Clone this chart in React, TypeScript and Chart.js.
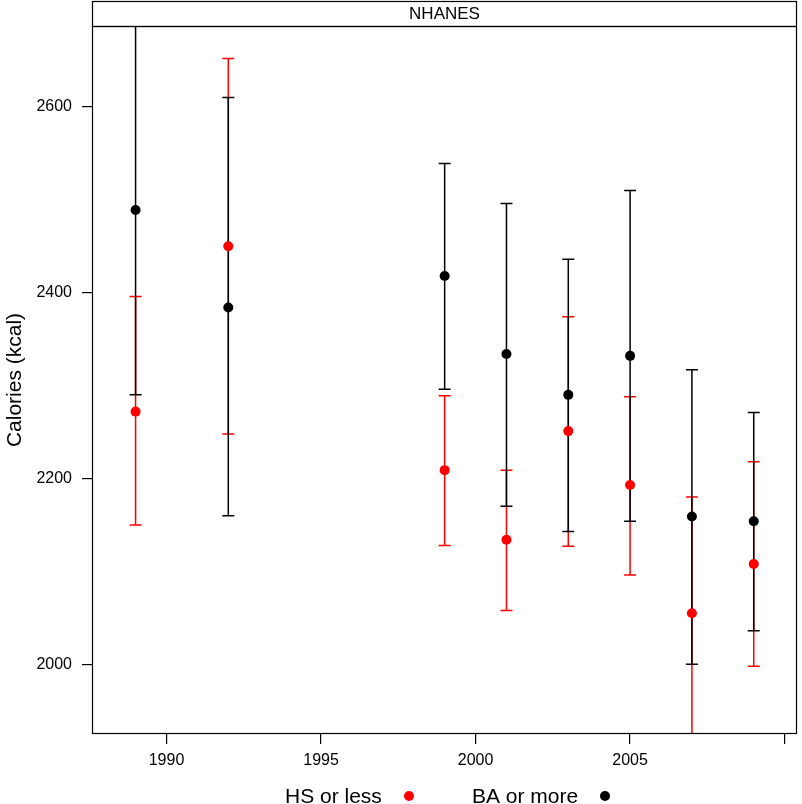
import React, { useEffect, useRef } from 'react';
import { Chart, registerables } from 'chart.js';

Chart.register(...registerables);

// ---- data ----
const years = [1989, 1992, 1999, 2001, 2003, 2005, 2007, 2009];
const hsMean = [2272, 2450, 2209, 2134, 2251, 2193, 2055, 2108];
const hsLower = [2150, 2248, 2128, 2058, 2127, 2096, 1922, 1998];
const hsUpper = [2396, 2652, 2289, 2209, 2374, 2288, 2180, 2218];
const baMean = [2489, 2384, 2418, 2334, 2290, 2332, 2159, 2154];
const baLower = [2290, 2160, 2296, 2170, 2143, 2154, 2000, 2036];
const baUpper = [2690, 2610, 2539, 2496, 2436, 2510, 2317, 2271];

const xTicks = [1990, 1995, 2000, 2005, 2010];
const xTickLabels = ['1990', '1995', '2000', '2005', ''];
const yTicks = [2000, 2200, 2400, 2600];
const yTickLabels = ['2000', '2200', '2400', '2600'];

const seriesNames = ['HS or less', 'BA or more'];
const seriesColors = ['#ff0000', '#000000'];
const stripLabel = 'NHANES';
const yTitle = 'Calories (kcal)';

const X_MIN = 1987.59;
const X_MAX = 2010.4;
const Y_MIN = 1925;
const Y_MAX = 2687;

const FONT = '"Liberation Sans", Arial, Helvetica, sans-serif';

const errorBarPlugin = {
  id: 'errorBars',
  beforeDatasetsDraw(chart: any) {
    const { ctx, chartArea, scales } = chart;
    const x = scales.x;
    const y = scales.y;
    ctx.save();
    ctx.beginPath();
    ctx.rect(chartArea.left, chartArea.top, chartArea.right - chartArea.left, chartArea.bottom - chartArea.top);
    ctx.clip();
    const groups: [number[], number[], string][] = [
      [hsLower, hsUpper, seriesColors[0]],
      [baLower, baUpper, seriesColors[1]],
    ];
    const cap = 6;
    groups.forEach(([lo, hi, col]) => {
      ctx.strokeStyle = col;
      ctx.lineWidth = 1.5;
      years.forEach((yr, i) => {
        const px = x.getPixelForValue(yr);
        const pLo = y.getPixelForValue(lo[i]);
        const pHi = y.getPixelForValue(hi[i]);
        ctx.beginPath();
        ctx.moveTo(px, pLo);
        ctx.lineTo(px, pHi);
        ctx.moveTo(px - cap, pLo);
        ctx.lineTo(px + cap, pLo);
        ctx.moveTo(px - cap, pHi);
        ctx.lineTo(px + cap, pHi);
        ctx.stroke();
      });
    });
    ctx.restore();
  },
};

const decorPlugin = {
  id: 'decor',
  afterDraw(chart: any) {
    const { ctx, chartArea } = chart;
    const { left, top, right, bottom } = chartArea;
    ctx.save();
    // panel border
    ctx.strokeStyle = '#000';
    ctx.lineWidth = 1.2;
    ctx.strokeRect(left + 0.5, top + 0.5, right - left - 1, bottom - top - 1);
    // strip
    ctx.strokeRect(left + 0.5, 1.5, right - left - 1, top - 1);
    ctx.fillStyle = '#000';
    ctx.font = `17px ${FONT}`;
    ctx.textAlign = 'center';
    ctx.textBaseline = 'middle';
    ctx.fillText(stripLabel, (left + right) / 2, 14);
    // y title
    ctx.save();
    ctx.translate(15, (top + bottom) / 2);
    ctx.rotate(-Math.PI / 2);
    ctx.font = `21px ${FONT}`;
    ctx.textAlign = 'center';
    ctx.textBaseline = 'middle';
    ctx.fillText(yTitle, 0, 0);
    ctx.restore();
    // legend
    ctx.font = `21px ${FONT}`;
    ctx.textAlign = 'left';
    ctx.textBaseline = 'alphabetic';
    const legendX = [285, 472];
    const dotX = [409, 605];
    seriesNames.forEach((name, i) => {
      ctx.fillStyle = '#000';
      ctx.fillText(name, legendX[i], 803);
      ctx.fillStyle = seriesColors[i];
      ctx.beginPath();
      ctx.arc(dotX[i], 796, 5, 0, Math.PI * 2);
      ctx.fill();
    });
    ctx.restore();
  },
};

export default function App() {
  const ref = useRef<HTMLCanvasElement | null>(null);

  useEffect(() => {
    document.body.style.margin = '0';
    const canvas = ref.current;
    if (!canvas) return;
    const chart = new Chart(canvas, {
      type: 'scatter',
      data: {
        datasets: [
          {
            label: seriesNames[0],
            data: years.map((yr, i) => ({ x: yr, y: hsMean[i] })),
            pointRadius: 5,
            pointBackgroundColor: seriesColors[0],
            pointBorderWidth: 0,
            borderWidth: 0,
            showLine: false,
          },
          {
            label: seriesNames[1],
            data: years.map((yr, i) => ({ x: yr, y: baMean[i] })),
            pointRadius: 5,
            pointBackgroundColor: seriesColors[1],
            pointBorderWidth: 0,
            borderWidth: 0,
            showLine: false,
          },
        ],
      },
      options: {
        animation: false,
        responsive: false,
        devicePixelRatio: 1,
        layout: { padding: { top: 26, right: 1, left: 0, bottom: 0 } },
        plugins: {
          legend: { display: false },
          tooltip: { enabled: false },
        },
        scales: {
          x: {
            type: 'linear',
            min: X_MIN,
            max: X_MAX,
            afterBuildTicks: (s: any) => {
              s.ticks = xTicks.map((v) => ({ value: v }));
            },
            afterFit: (s: any) => {
              s.height = 70;
            },
            border: { display: false },
            grid: {
              drawOnChartArea: false,
              drawTicks: true,
              tickLength: 10,
              color: '#000',
              lineWidth: 1.2,
            },
            ticks: {
              autoSkip: false,
              maxRotation: 0,
              padding: 7,
              color: '#000',
              font: { family: FONT, size: 16 },
              callback: (v: any) => xTickLabels[xTicks.indexOf(Number(v))] ?? '',
            },
          },
          y: {
            type: 'linear',
            min: Y_MIN,
            max: Y_MAX,
            afterBuildTicks: (s: any) => {
              s.ticks = yTicks.map((v) => ({ value: v }));
            },
            afterFit: (s: any) => {
              s.width = 92;
            },
            border: { display: false },
            grid: {
              drawOnChartArea: false,
              drawTicks: true,
              tickLength: 10,
              color: '#000',
              lineWidth: 1.2,
            },
            ticks: {
              padding: 10,
              color: '#000',
              font: { family: FONT, size: 16 },
              callback: (v: any) => yTickLabels[yTicks.indexOf(Number(v))] ?? '',
            },
          },
        },
      },
      plugins: [errorBarPlugin, decorPlugin],
    } as any);
    return () => chart.destroy();
  }, []);

  return (
    <div style={{ width: 802, height: 804, background: '#fff' }}>
      <canvas ref={ref} width={802} height={804} style={{ display: 'block' }} />
    </div>
  );
}
